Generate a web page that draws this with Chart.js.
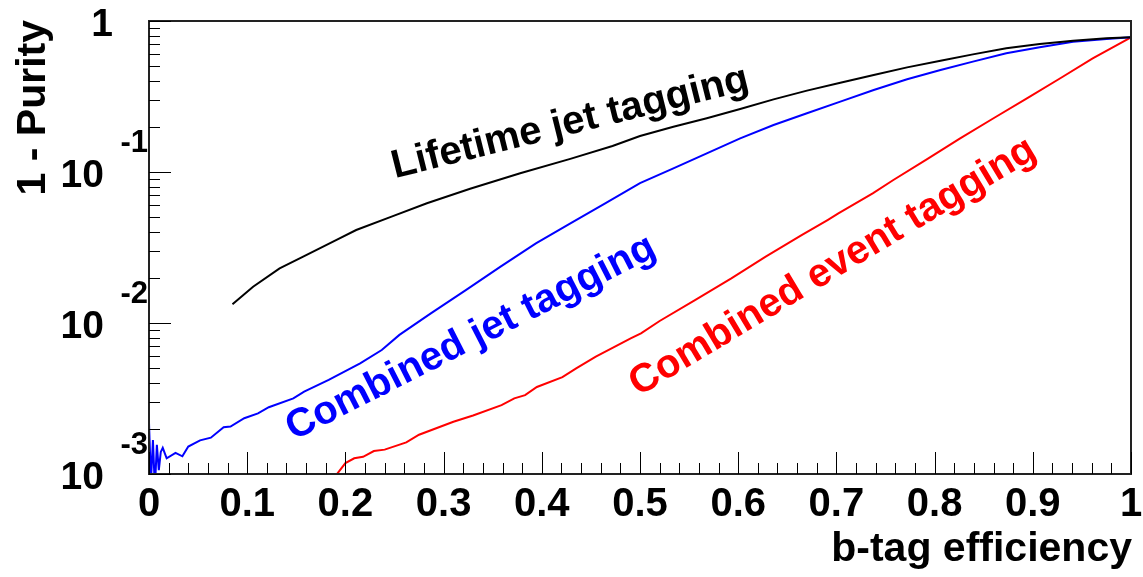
<!DOCTYPE html>
<html>
<head>
<meta charset="utf-8">
<script src="https://cdn.jsdelivr.net/npm/chart.js@4.4.1/dist/chart.umd.min.js"></script>
<style>
  body { margin: 0; background: #fff; }
</style>
</head>
<body>
<canvas id="purity" width="1143" height="577"></canvas>
<script>
// b-tag efficiency vs (1 - purity)
var effLifetime = [0.085, 0.106, 0.133, 0.157, 0.191, 0.211, 0.247, 0.283, 0.327, 0.378, 0.429, 0.472, 0.500, 0.534, 0.568, 0.602, 0.636, 0.670, 0.704, 0.738, 0.772, 0.806, 0.839, 0.873, 0.907, 0.941, 0.975, 1.000];
var impLifetime = [0.0133, 0.0174, 0.0230, 0.0275, 0.0355, 0.0413, 0.0506, 0.0621, 0.0774, 0.0980, 0.1222, 0.1486, 0.1730, 0.1995, 0.2270, 0.261, 0.3027, 0.3459, 0.3899, 0.4385, 0.4932, 0.5458, 0.6012, 0.6592, 0.7047, 0.7413, 0.7674, 0.780];

var effJet = [0.000, 0.002, 0.004, 0.006, 0.008, 0.010, 0.012, 0.014, 0.018, 0.027, 0.034, 0.040, 0.052, 0.063, 0.076, 0.083, 0.097, 0.111, 0.122, 0.147, 0.158, 0.183, 0.215, 0.237, 0.255, 0.287, 0.323, 0.358, 0.394, 0.430, 0.465, 0.500, 0.534, 0.568, 0.602, 0.636, 0.670, 0.704, 0.738, 0.772, 0.806, 0.839, 0.873, 0.907, 0.941, 0.975, 1.000];
var impJet = [0.00218, 0.00090, 0.00168, 0.00080, 0.00156, 0.00106, 0.00140, 0.00149, 0.00127, 0.00138, 0.00131, 0.00152, 0.00167, 0.00174, 0.00204, 0.00206, 0.00234, 0.00252, 0.00277, 0.00317, 0.00351, 0.00420, 0.00541, 0.00662, 0.00834, 0.01159, 0.01656, 0.0236, 0.0337, 0.0461, 0.0621, 0.0845, 0.1057, 0.1330, 0.1671, 0.2046, 0.2449, 0.2924, 0.3491, 0.4111, 0.4732, 0.5383, 0.6109, 0.6699, 0.7295, 0.7603, 0.780];

var effEvent = [0.186, 0.200, 0.209, 0.218, 0.229, 0.240, 0.262, 0.275, 0.310, 0.330, 0.359, 0.372, 0.383, 0.395, 0.421, 0.435, 0.455, 0.473, 0.491, 0.501, 0.520, 0.556, 0.593, 0.628, 0.665, 0.691, 0.702, 0.737, 0.758, 0.792, 0.826, 0.860, 0.894, 0.928, 0.961, 1.000];
var impEvent = [0.00090, 0.00118, 0.00127, 0.00130, 0.00142, 0.00145, 0.00162, 0.00182, 0.00222, 0.00244, 0.00286, 0.00317, 0.00333, 0.00377, 0.00438, 0.00501, 0.00598, 0.00689, 0.00793, 0.00855, 0.01031, 0.01419, 0.01977, 0.02750, 0.03828, 0.04808, 0.0532, 0.0722, 0.0885, 0.1213, 0.1671, 0.2270, 0.3076, 0.4178, 0.5662, 0.780];

var curveNames = ['Lifetime jet tagging', 'Combined jet tagging', 'Combined event tagging'];
var curveColors = ['#000000', '#0000ff', '#ff0000'];
// where each curve name sits (data coords of the text start) and its slant
var nameEff = [0.2505, 0.1475, 0.4985];
var nameImp = [0.091, 0.00166, 0.00325];
var nameAngle = [14, 27, 31];

var xTickValues = [0, 0.1, 0.2, 0.3, 0.4, 0.5, 0.6, 0.7, 0.8, 0.9, 1];
var xTickLabels = ['0', '0.1', '0.2', '0.3', '0.4', '0.5', '0.6', '0.7', '0.8', '0.9', '1'];
var yDecades = [0.001, 0.01, 0.1, 1];
var yExponents = ['-3', '-2', '-1', ''];

function pts(xs, ys) {
    return xs.map(function(x, i) { return {x: x, y: ys[i]}; });
}

var BOLD = '"Liberation Sans", Arial, Helvetica, sans-serif';

var rootFrame = {
    id: 'rootFrame',
    afterDraw: function(chart) {
        var ctx = chart.ctx;
        var a = chart.chartArea;
        var xs = chart.scales.x, ys = chart.scales.y;
        ctx.save();

        // frame
        ctx.strokeStyle = '#222';
        ctx.lineWidth = 2;
        ctx.strokeRect(a.left, a.top, a.right - a.left, a.bottom - a.top);

        // x ticks (inward)
        ctx.lineWidth = 1;
        ctx.strokeStyle = '#000';
        ctx.beginPath();
        for (var i = 0; i <= 50; i++) {
            var px = Math.round(xs.getPixelForValue(i * 0.02)) + 0.5;
            var len = (i % 5 === 0) ? 22 : 11;
            ctx.moveTo(px, a.bottom);
            ctx.lineTo(px, a.bottom - len);
        }
        // y ticks (inward, log)
        yDecades.forEach(function(d, k) {
            var py = Math.round(ys.getPixelForValue(d)) + 0.5;
            ctx.moveTo(a.left, py);
            ctx.lineTo(a.left + 22, py);
            if (k < yDecades.length - 1) {
                for (var m = 2; m <= 9; m++) {
                    var pm = Math.round(ys.getPixelForValue(d * m)) + 0.5;
                    ctx.moveTo(a.left, pm);
                    ctx.lineTo(a.left + 11, pm);
                }
            }
        });
        ctx.stroke();

        // x tick labels
        ctx.fillStyle = '#000';
        ctx.font = 'bold 40px ' + BOLD;
        ctx.textAlign = 'center';
        ctx.textBaseline = 'alphabetic';
        xTickValues.forEach(function(v, i) {
            ctx.fillText(xTickLabels[i], xs.getPixelForValue(v), a.bottom + 42);
        });

        // y tick labels, 10 with exponent
        yDecades.forEach(function(d, k) {
            var py = ys.getPixelForValue(d);
            ctx.textAlign = 'right';
            ctx.font = 'bold 39px ' + BOLD;
            if (yExponents[k] === '') {
                ctx.fillText('1', 113, py + 15);
            } else {
                ctx.fillText('10', 104, py + 15);
                ctx.font = 'bold 31px ' + BOLD;
                ctx.fillText(yExponents[k], 148, py - 20);
            }
        });

        // axis titles
        ctx.font = 'bold 41px ' + BOLD;
        ctx.textAlign = 'right';
        ctx.fillText('b-tag efficiency', a.right + 1, 561);
        ctx.save();
        ctx.translate(45, a.top - 1);
        ctx.rotate(-Math.PI / 2);
        ctx.font = 'bold 41px ' + BOLD;
        ctx.textAlign = 'right';
        ctx.fillText('1 - Purity', 0, 0);
        ctx.restore();

        // curve names
        ctx.font = 'bold 40px ' + BOLD;
        ctx.textAlign = 'left';
        curveNames.forEach(function(name, i) {
            ctx.save();
            ctx.translate(xs.getPixelForValue(nameEff[i]), ys.getPixelForValue(nameImp[i]));
            ctx.rotate(-nameAngle[i] * Math.PI / 180);
            ctx.fillStyle = curveColors[i];
            ctx.fillText(name, 0, 0);
            ctx.restore();
        });
        ctx.restore();
    }
};

var config = {
    type: 'line',
    data: {
        datasets: [{
            label: curveNames[0],
            data: pts(effLifetime, impLifetime),
            borderColor: curveColors[0]
        }, {
            label: curveNames[1],
            data: pts(effJet, impJet),
            borderColor: curveColors[1]
        }, {
            label: curveNames[2],
            data: pts(effEvent, impEvent),
            borderColor: curveColors[2]
        }]
    },
    options: {
        responsive: false,
        animation: false,
        events: [],
        layout: {
            padding: {top: 21, right: 12, left: 0, bottom: 0}
        },
        elements: {
            point: {radius: 0},
            line: {borderWidth: 2, tension: 0, fill: false}
        },
        plugins: {
            legend: {display: false},
            tooltip: {enabled: false},
            title: {display: false}
        },
        scales: {
            x: {
                type: 'linear',
                min: 0,
                max: 1,
                ticks: {display: false},
                grid: {display: false},
                border: {display: false},
                afterFit: function(s) { s.height = 103; }
            },
            y: {
                type: 'logarithmic',
                min: 0.001,
                max: 1,
                ticks: {display: false},
                grid: {display: false},
                border: {display: false},
                afterFit: function(s) { s.width = 149; }
            }
        }
    },
    plugins: [rootFrame]
};

window.onload = function() {
    var ctx = document.getElementById('purity').getContext('2d');
    window.purityChart = new Chart(ctx, config);
};
</script>
</body>
</html>
